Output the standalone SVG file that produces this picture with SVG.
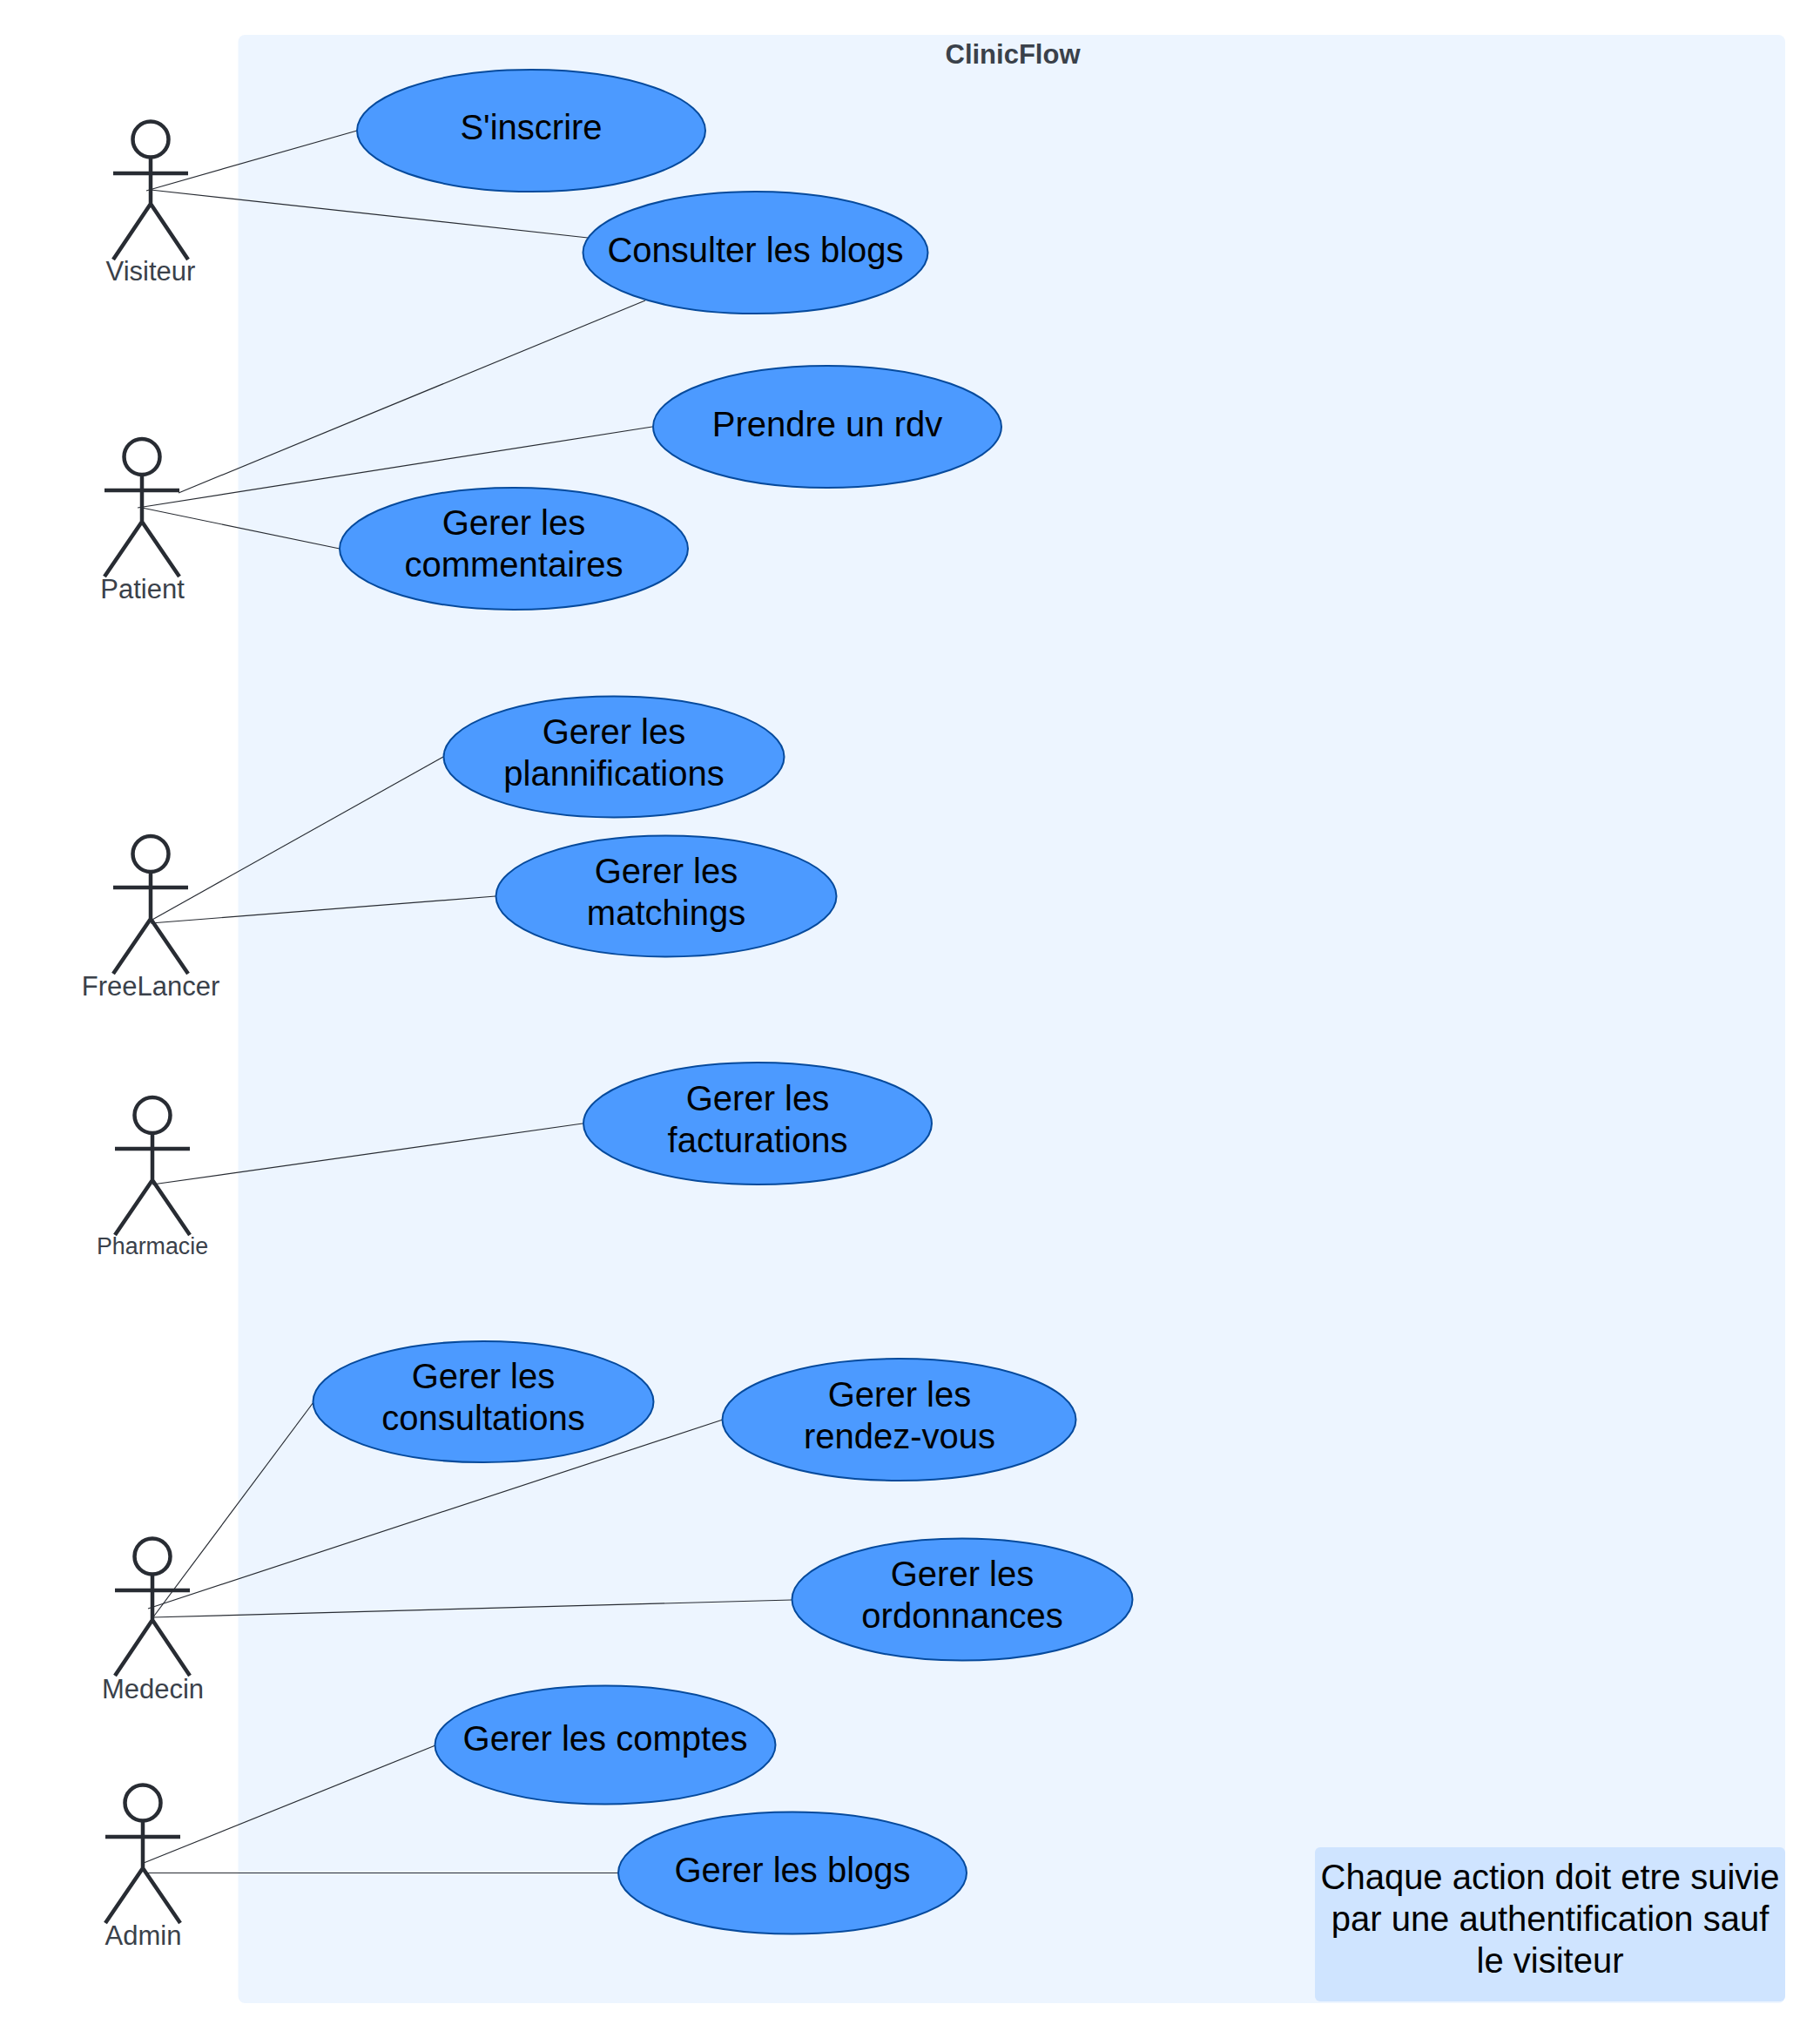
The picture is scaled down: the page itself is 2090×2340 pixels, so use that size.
<svg xmlns="http://www.w3.org/2000/svg" width="2090" height="2340" viewBox="0 0 2090 2340">
<style>
text{font-family:"Liberation Sans",Arial,sans-serif;text-anchor:middle}
.uc ellipse{fill:#4c9aff;stroke:#064a9c;stroke-width:2}
.uc text,.note text{font-size:40px;fill:#000}
.actor circle,.actor path{fill:none;stroke:#282c33;stroke-width:4.500}
.actor text{font-size:31px;fill:#3a414a}
#connectors line{stroke:#282c33;stroke-width:1.200}
</style>
<rect id="container" x="273.500" y="40" width="1776.500" height="2260" rx="8" fill="#edf5ff"/>
<text x="1163" y="73" font-size="31" font-weight="700" fill="#3a414a">ClinicFlow</text>
<g id="connectors">
<line x1="168" y1="219" x2="410" y2="150"/>
<line x1="173" y1="218" x2="675" y2="273"/>
<line x1="205" y1="566" x2="741" y2="345"/>
<line x1="158" y1="583" x2="749" y2="490"/>
<line x1="163" y1="583" x2="390" y2="630"/>
<line x1="173" y1="1057" x2="509" y2="869"/>
<line x1="173" y1="1060" x2="569" y2="1029"/>
<line x1="175" y1="1360" x2="669" y2="1290"/>
<line x1="175" y1="1858" x2="360" y2="1610"/>
<line x1="170" y1="1847" x2="830" y2="1630"/>
<line x1="175" y1="1857" x2="909" y2="1837"/>
<line x1="165" y1="2139" x2="500" y2="2004"/>
<line x1="170" y1="2150.500" x2="709" y2="2150.500"/>
</g>
<g id="actor-visiteur" class="actor"><circle cx="173" cy="160" r="20.500"/><path d="M173 180.500V234M130 199H216M130 298L173 234L216 298"/><text x="173" y="322">Visiteur</text></g>
<g id="actor-patient" class="actor"><circle cx="163" cy="524.500" r="20.500"/><path d="M163 545V599M120 563H206M120 662L163 599L206 662"/><text x="163.500" y="687">Patient</text></g>
<g id="actor-freelancer" class="actor"><circle cx="173" cy="980.500" r="20.500"/><path d="M173 1001V1055M130 1019H216M130 1118L173 1055L216 1118"/><text x="173" y="1143">FreeLancer</text></g>
<g id="actor-pharmacie" class="actor"><circle cx="175" cy="1280.500" r="20.500"/><path d="M175 1301V1355M132 1319H218M132 1418L175 1355L218 1418"/><text x="175" y="1440" style="font-size:26.800px">Pharmacie</text></g>
<g id="actor-medecin" class="actor"><circle cx="175" cy="1787" r="20.500"/><path d="M175 1807.500V1860M132 1826H218M132 1924L175 1860L218 1924"/><text x="175.500" y="1950">Medecin</text></g>
<g id="actor-admin" class="actor"><circle cx="164" cy="2070" r="20.500"/><path d="M164 2090.500V2145M121 2109H207M121 2208L164 2145L207 2208"/><text x="164.500" y="2233">Admin</text></g>
<g id="uc-inscrire" class="uc"><ellipse cx="610" cy="150" rx="200" ry="70"/><text x="610" y="160">S'inscrire</text></g>
<g id="uc-consulter" class="uc"><ellipse cx="867.500" cy="290" rx="198" ry="70"/><text x="867.500" y="301">Consulter les blogs</text></g>
<g id="uc-rdv" class="uc"><ellipse cx="950" cy="490" rx="200" ry="70"/><text x="950" y="501">Prendre un rdv</text></g>
<g id="uc-commentaires" class="uc"><ellipse cx="590" cy="630" rx="200" ry="70"/><text x="590" y="614">Gerer les</text><text x="590" y="662">commentaires</text></g>
<g id="uc-plannifications" class="uc"><ellipse cx="705" cy="869" rx="195.500" ry="69.500"/><text x="705" y="854">Gerer les</text><text x="705" y="902">plannifications</text></g>
<g id="uc-matchings" class="uc"><ellipse cx="765" cy="1029" rx="195.500" ry="69.500"/><text x="765" y="1014">Gerer les</text><text x="765" y="1062">matchings</text></g>
<g id="uc-facturations" class="uc"><ellipse cx="870" cy="1290" rx="200" ry="70"/><text x="870" y="1275">Gerer les</text><text x="870" y="1323">facturations</text></g>
<g id="uc-consultations" class="uc"><ellipse cx="555" cy="1609.500" rx="195.500" ry="69.500"/><text x="555" y="1594">Gerer les</text><text x="555" y="1642">consultations</text></g>
<g id="uc-rendezvous" class="uc"><ellipse cx="1032.500" cy="1630" rx="203" ry="70"/><text x="1033" y="1615">Gerer les</text><text x="1033" y="1663">rendez-vous</text></g>
<g id="uc-ordonnances" class="uc"><ellipse cx="1105" cy="1836.500" rx="195.500" ry="70"/><text x="1105" y="1821">Gerer les</text><text x="1105" y="1869">ordonnances</text></g>
<g id="uc-comptes" class="uc"><ellipse cx="695" cy="2003.500" rx="195.500" ry="68"/><text x="695" y="2010">Gerer les comptes</text></g>
<g id="uc-blogs" class="uc"><ellipse cx="910" cy="2150.500" rx="200" ry="70"/><text x="910" y="2161">Gerer les blogs</text></g>
<g id="note" class="note"><rect x="1510" y="2121" width="540" height="177" rx="6" fill="#cfe4ff"/><text x="1780" y="2169">Chaque action doit etre suivie</text><text x="1780" y="2217">par une authentification sauf</text><text x="1780" y="2265">le visiteur</text></g>
</svg>
